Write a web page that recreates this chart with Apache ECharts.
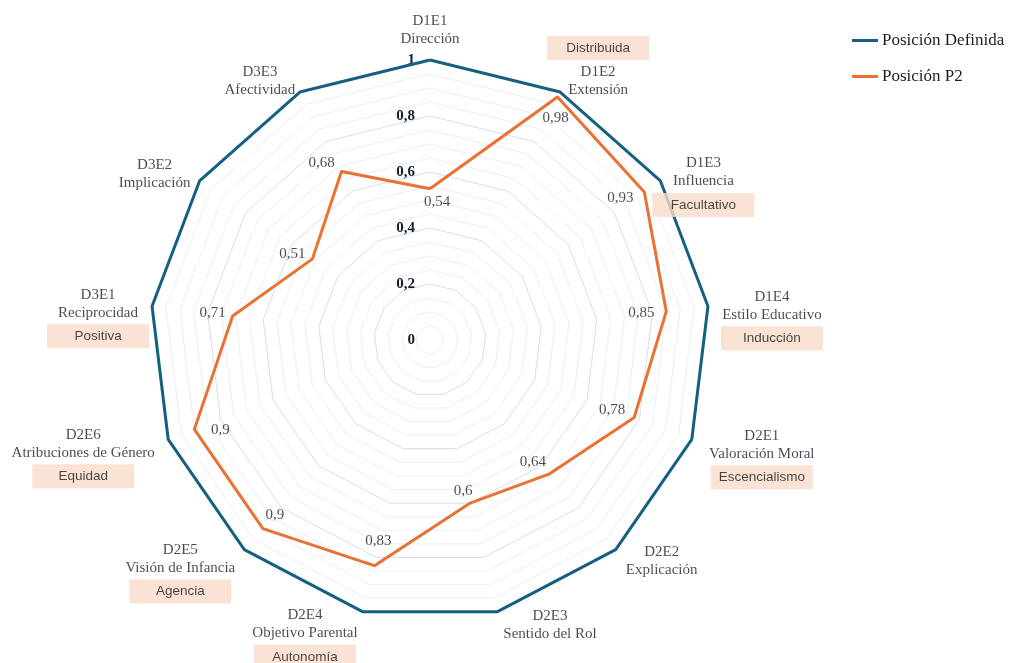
<!DOCTYPE html>
<html>
<head>
<meta charset="utf-8">
<script src="https://cdn.jsdelivr.net/npm/echarts@6/dist/echarts.min.js"></script>
<style>
  html, body { margin: 0; padding: 0; background: #fff; }
  #chart { width: 1010px; height: 663px; }
</style>
</head>
<body>
<div id="chart"></div>
<script>
// datos
const codigos = ["D1E1", "D1E2", "D1E3", "D1E4", "D2E1", "D2E2", "D2E3", "D2E4", "D2E5", "D2E6", "D3E1", "D3E2", "D3E3"];
const nombres = ["Dirección", "Extensión", "Influencia", "Estilo Educativo", "Valoración Moral", "Explicación", "Sentido del Rol", "Objetivo Parental", "Visión de Infancia", "Atribuciones de Género", "Reciprocidad", "Implicación", "Afectividad"];
const etiquetas = ["", "Distribuida", "Facultativo", "Inducción", "Escencialismo", "", "", "Autonomía", "Agencia", "Equidad", "Positiva", "", ""];
const posicionDefinida = [1, 1, 1, 1, 1, 1, 1, 1, 1, 1, 1, 1, 1];
const posicionP2 = [0.54, 0.98, 0.93, 0.85, 0.78, 0.64, 0.6, 0.83, 0.9, 0.9, 0.71, 0.51, 0.68];
const ticks = [0, 0.2, 0.4, 0.6, 0.8, 1];

// desplazamiento de las etiquetas (solo estilo)
const offValores = [[7, 13], [-2, 21], [-24, 6], [-25, 2], [-22, -7], [-16, -12], [-7, -12], [4, -25], [12, -14], [26, 1], [-20, -3], [-20, -5], [-20, -8]];
const offNombres = [[0, -30], [38, -26], [43, 6], [64, 14], [70, 20], [46, 11], [53, 13], [-58, 27], [-64, 24], [-85, 19], [-54, 12], [-45, -7], [-40, -11]];

const AZUL = "#156082";
const NARANJA = "#E97132";
const TEXTO = "#161e2a";
const SERIF = "'Liberation Serif', 'DejaVu Serif', serif";
const SANS = "'Liberation Sans', 'Noto Sans', sans-serif";
const coma = (v) => String(v).replace(".", ",");

// el radar de echarts gira en sentido antihorario: se invierte el orden
const orden = [0].concat(codigos.map((c, i) => i).slice(1).reverse());
const enOrden = (arr) => orden.map((i) => arr[i]);

const chart = echarts.init(document.getElementById("chart"));

const option = {
  backgroundColor: "#fff",
  animation: false,
  legend: {
    data: ["Posición Definida", "Posición P2"],
    orient: "vertical",
    left: 852,
    top: 32,
    padding: 0,
    itemGap: 19,
    itemWidth: 26,
    itemHeight: 3,
    icon: "rect",
    textStyle: { fontFamily: SERIF, fontSize: 17, color: TEXTO, padding: [0, 0, 0, -1] },
  },
  radar: {
    center: [430, 340],
    radius: 280,
    startAngle: 90,
    shape: "polygon",
    splitNumber: 20,
    indicator: enOrden(codigos).map((c) => ({ name: c, min: 0, max: 1 })),
    axisName: { show: false },
    axisLine: { show: false },
    axisTick: { show: false },
    splitArea: { show: false },
    splitLine: {
      lineStyle: { color: ["#d3e0eb", "#ebf0f5", "#ebf0f5", "#ebf0f5"], width: 1 },
    },
  },
  polar: { center: [430, 340], radius: 280 },
  angleAxis: {
    type: "category",
    data: codigos,
    startAngle: 90,
    boundaryGap: false,
    axisLine: { show: false },
    axisTick: { show: false },
    axisLabel: { show: false },
    splitLine: { show: false },
  },
  radiusAxis: {
    min: 0,
    max: 1,
    interval: 0.2,
    axisLine: { show: false },
    axisTick: { show: false },
    splitLine: { show: false },
    axisLabel: {
      formatter: (v) => (ticks.includes(v) ? coma(v) : ""),
      fontFamily: SERIF,
      fontSize: 15,
      fontWeight: "bold",
      color: TEXTO,
      margin: 15,
    },
  },
  series: [
    {
      type: "radar",
      symbol: "none",
      data: [
        { name: "Posición Definida", value: enOrden(posicionDefinida), lineStyle: { color: AZUL, width: 3 }, itemStyle: { color: AZUL } },
        { name: "Posición P2", value: enOrden(posicionP2), lineStyle: { color: NARANJA, width: 3 }, itemStyle: { color: NARANJA } },
      ],
    },
    {
      // valores de P2
      type: "scatter",
      coordinateSystem: "polar",
      symbolSize: 0,
      silent: true,
      data: posicionP2.map((v, i) => ({
        value: [v, codigos[i]],
        label: { offset: offValores[i] },
      })),
      label: {
        show: true,
        position: "inside",
        formatter: (p) => coma(p.value[0]),
        fontFamily: SERIF,
        fontSize: 15,
        color: TEXTO,
      },
    },
    {
      // nombres de los ejes
      type: "scatter",
      coordinateSystem: "polar",
      symbolSize: 0,
      silent: true,
      data: codigos.map((c, i) => ({
        value: [1, c],
        label: { offset: offNombres[i] },
      })),
      label: {
        show: true,
        position: "inside",
        align: "center",
        formatter: (p) => {
          const i = p.dataIndex;
          const txt = "{t|" + codigos[i] + "}\n{t|" + nombres[i] + "}";
          if (!etiquetas[i]) return txt;
          if (i === 1) return "{b|" + etiquetas[i] + "}\n{t|" + codigos[i] + "}\n{t|" + nombres[i] + "}";
          return txt + "\n{b|" + etiquetas[i] + "}";
        },
        rich: {
          t: { fontFamily: SERIF, fontSize: 15, color: TEXTO, lineHeight: 18, align: "center" },
          b: {
            fontFamily: SANS,
            fontSize: 13.5,
            color: "#1a1a1a",
            backgroundColor: "#F9DCCB",
            width: 102,
            height: 24,
            lineHeight: 29,
            align: "center",
          },
        },
      },
    },
  ],
};

chart.setOption(option);
window.onresize = function () {
  chart.resize();
};
</script>
</body>
</html>
